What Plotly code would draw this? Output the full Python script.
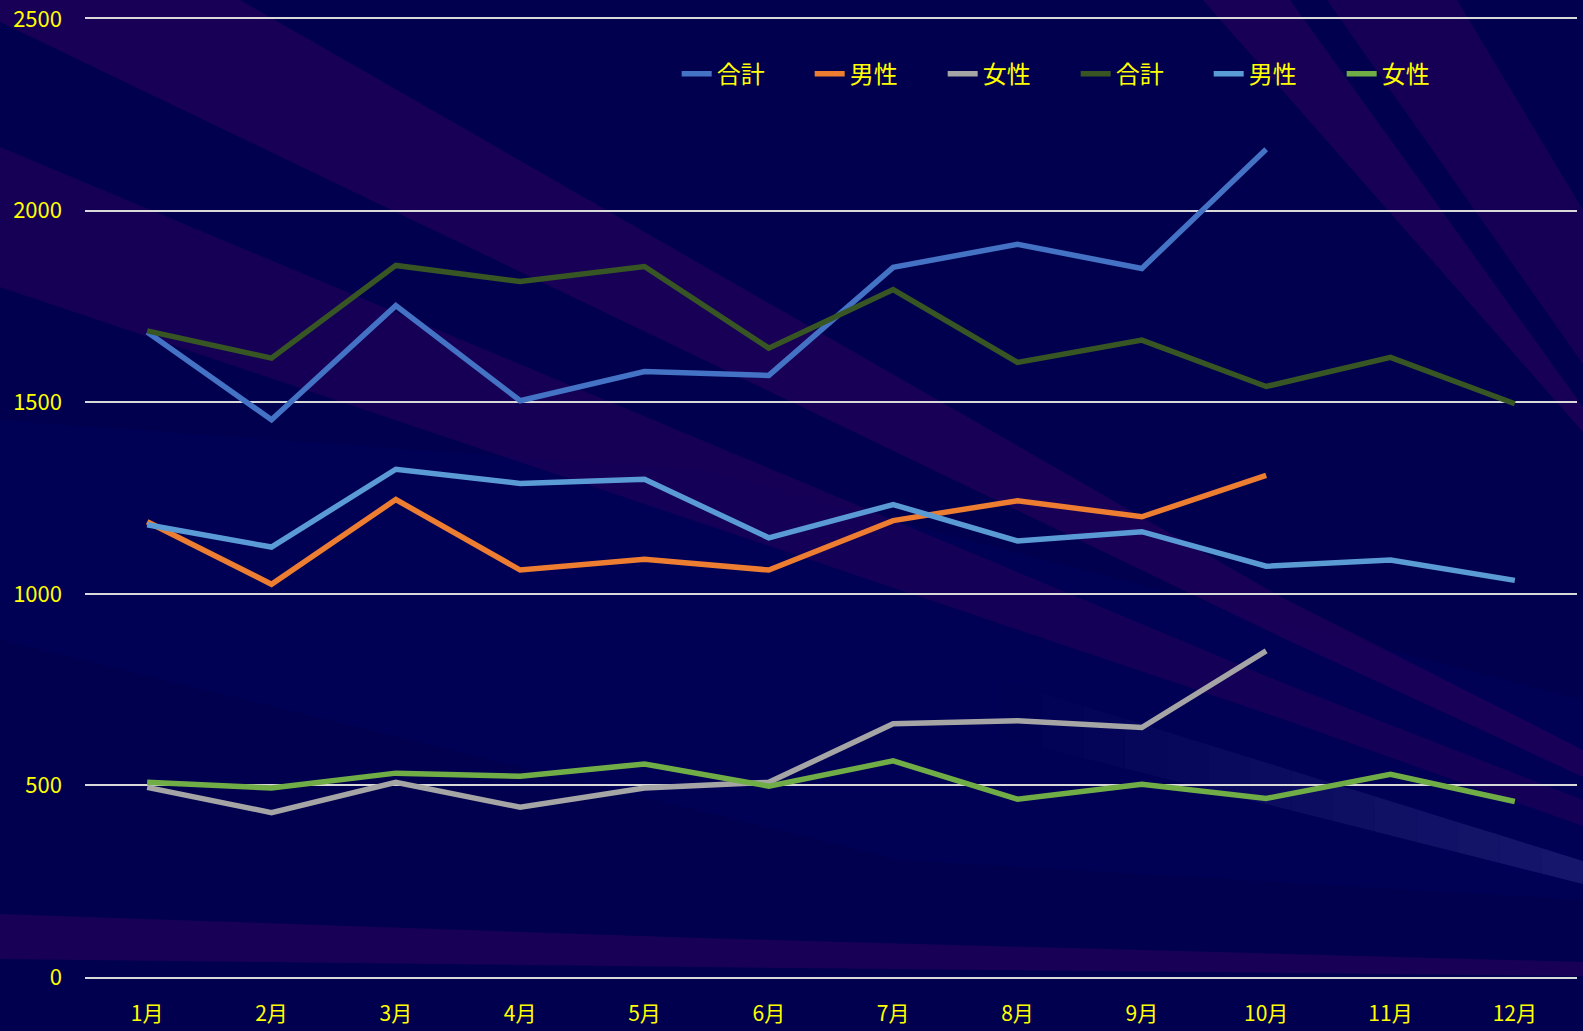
import plotly.graph_objects as go

months = ["1月", "2月", "3月", "4月", "5月", "6月", "7月", "8月", "9月", "10月", "11月", "12月"]
names = ["合計", "男性", "女性", "合計", "男性", "女性"]
total_a = [1683, 1454, 1752, 1504, 1580, 1570, 1852, 1912, 1849, 2160]
male_a = [1188, 1025, 1246, 1062, 1090, 1062, 1191, 1243, 1201, 1309]
female_a = [495, 429, 508, 443, 493, 508, 661, 669, 651, 851]
total_b = [1686, 1615, 1857, 1815, 1854, 1641, 1794, 1604, 1662, 1541, 1617, 1496]
male_b = [1180, 1122, 1325, 1288, 1299, 1146, 1233, 1138, 1162, 1072, 1088, 1035]
female_b = [508, 493, 532, 524, 556, 498, 564, 464, 503, 466, 529, 458]
series = [total_a, male_a, female_a, total_b, male_b, female_b]
colors = ["#4472C4", "#ED7D31", "#A5A5A5", "#375623", "#5B9BD5", "#70AD47"]

W, H = 1583, 1031
L, R, T, B = 85, 6, 19, 54
pw, ph = W - L - R, H - T - B


def path(pts):
    s = ""
    for i, (x, y) in enumerate(pts):
        px = (x - L) / pw
        py = (H - B - y) / ph
        s += ("M" if i == 0 else "L") + f"{px:.4f},{py:.4f} "
    return s + "Z"


PURPLE = "rgba(30,0,90,0.8)"
bands = [
    # subtle lighter navy in the lower middle
    ([(0, 420), (0, 640), (900, 860), (1583, 900), (1583, 700), (700, 470)], "rgba(0,0,120,0.14)"),
    # big diagonal band
    ([(0, 0), (240, 0), (1283, 598), (1583, 750), (1583, 777), (1283, 638), (0, 22)], PURPLE),
    # second diagonal band
    ([(0, 147), (0, 287), (1283, 719), (1583, 826), (1583, 800), (1283, 683)], "rgba(30,0,90,0.7)"),
    # top-right rays
    ([(1203, 0), (1290, 0), (1583, 407), (1583, 432)], PURPLE),
    ([(1327, 0), (1457, 0), (1583, 210), (1583, 364)], "rgba(30,0,90,0.75)"),
    # bottom band
    ([(0, 914), (700, 938), (1583, 962), (1583, 976), (700, 967), (0, 959)], PURPLE),
]

# light ray in the lower right, fading towards the left
x0, x1 = 1000, 1583
u0, u1 = 680, 861
l0, l1 = 737, 884
nseg = 14
for i in range(nseg):
    xa = x0 + (x1 - x0) * i / nseg
    xb = x0 + (x1 - x0) * (i + 1) / nseg
    ua = u0 + (u1 - u0) * i / nseg
    ub = u0 + (u1 - u0) * (i + 1) / nseg
    la = l0 + (l1 - l0) * i / nseg
    lb = l0 + (l1 - l0) * (i + 1) / nseg
    alpha = 0.38 * (i + 0.5) / nseg
    bands.append(([(xa, ua), (xb, ub), (xb, lb), (xa, la)], f"rgba(60,60,150,{alpha:.3f})"))

shapes = [
    dict(type="path", xref="paper", yref="paper", path=path(p), fillcolor=c,
         line=dict(width=0), layer="below")
    for p, c in bands
]

fig = go.Figure()
for name, vals, col in zip(names, series, colors):
    fig.add_trace(go.Scatter(
        x=months[:len(vals)], y=vals, name=name, mode="lines",
        line=dict(color=col, width=5.5),
    ))

FONT = "Noto Sans CJK JP"
fig.update_layout(
    width=W, height=H,
    margin=dict(l=L, r=R, t=T, b=B, pad=0, autoexpand=False),
    paper_bgcolor="#00004e",
    plot_bgcolor="rgba(0,0,0,0)",
    font=dict(family=FONT, color="#FFFF00", size=22),
    shapes=shapes,
    showlegend=True,
    legend=dict(orientation="h", x=0.664, xanchor="center", y=0.966, yanchor="top",
                bgcolor="rgba(0,0,0,0)", font=dict(size=24, color="#FFFF00"),
                entrywidth=88, entrywidthmode="pixels", traceorder="normal"),
    xaxis=dict(type="category", categoryorder="array", categoryarray=months,
               range=[-0.5, 11.5], showgrid=False, zeroline=False,
               showline=True, mirror=True, linecolor="#D9D9D9", linewidth=2,
               automargin=False,
               ticks="", ticklabelstandoff=17, tickfont=dict(size=21, color="#FFFF00")),
    yaxis=dict(range=[0, 2500], dtick=500, showgrid=True, gridcolor="#D9D9D9",
               gridwidth=2, zeroline=False, showline=False, ticks="", automargin=False,
               ticklabelstandoff=22, tickfont=dict(size=22, color="#FFFF00")),
)
fig.write_html("out.html", config={"displayModeBar": False},
               post_script="document.body.style.margin='0';")
